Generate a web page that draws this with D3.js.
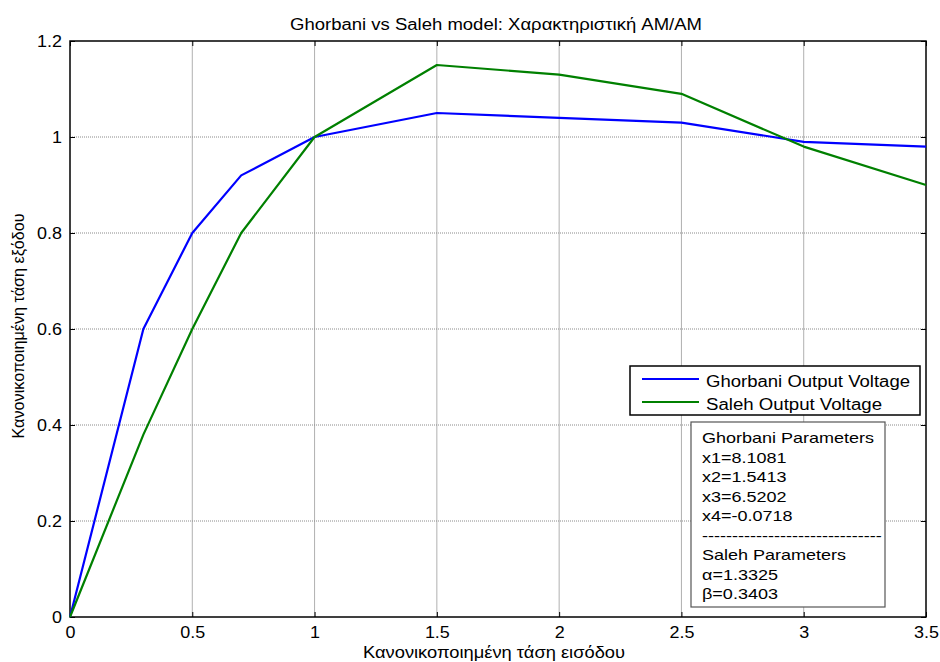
<!DOCTYPE html>
<html>
<head>
<meta charset="utf-8">
<script src="https://cdn.jsdelivr.net/npm/d3@7/dist/d3.min.js"></script>
<style>
  html, body { margin: 0; padding: 0; background: #fff; }
  svg text { font-family: "Liberation Sans", Arial, Helvetica, sans-serif; fill: #000; }
</style>
</head>
<body>
<svg id="chart" width="940" height="662"></svg>
<script>
// Input amplitude samples (normalised)
const inputVoltage = [0, 0.3, 0.5, 0.7, 1.0, 1.5, 2.0, 2.5, 3.0, 3.5];
// AM/AM output of the two fitted models
const ghorbaniOutput = [0, 0.60, 0.80, 0.92, 1.00, 1.05, 1.04, 1.03, 0.99, 0.98];
const salehOutput    = [0, 0.38, 0.60, 0.80, 1.00, 1.15, 1.13, 1.09, 0.98, 0.90];

const xTicks = [0, 0.5, 1, 1.5, 2, 2.5, 3, 3.5];
const yTicks = [0, 0.2, 0.4, 0.6, 0.8, 1.0, 1.2];

const seriesNames = ["Ghorbani Output Voltage", "Saleh Output Voltage"];
const seriesColors = ["#0000ff", "#008000"];

const paramLines = [
  "Ghorbani Parameters",
  "x1=8.1081",
  "x2=1.5413",
  "x3=6.5202",
  "x4=-0.0718",
  "------------------------------",
  "Saleh Parameters",
  "α=1.3325",
  "β=0.3403"
];

const titleText = "Ghorbani vs Saleh model: Χαρακτηριστική AM/AM";
const xLabelText = "Κανονικοποιημένη τάση εισόδου";
const yLabelText = "Κανονικοποιημένη τάση εξόδου";

const svg = d3.select("#chart");
const plot = { left: 70, right: 926, top: 41, bottom: 617 };

const x = d3.scaleLinear().domain([0, 3.5]).range([plot.left, plot.right]);
const y = d3.scaleLinear().domain([0, 1.2]).range([plot.bottom, plot.top]);

// Widen a text run horizontally by a factor (the figure font is a wide Helvetica)
function widen(sel, k) {
  sel.each(function () {
    const w = this.getComputedTextLength();
    d3.select(this).attr("textLength", w * k).attr("lengthAdjust", "spacingAndGlyphs");
  });
}

// grid
const grid = svg.append("g");
grid.selectAll("line.vg").data(xTicks.slice(1, -1)).join("line")
  .attr("x1", d => x(d)).attr("x2", d => x(d))
  .attr("y1", plot.top).attr("y2", plot.bottom)
  .attr("stroke", "#b0b0b0").attr("stroke-width", 1);
grid.selectAll("line.hg").data(yTicks.slice(1, -1)).join("line")
  .attr("x1", plot.left).attr("x2", plot.right)
  .attr("y1", d => y(d)).attr("y2", d => y(d))
  .attr("stroke", "#8a8a8a").attr("stroke-width", 1)
  .attr("stroke-dasharray", "1,1");

// axes (ticks point inward, mirrored on top/right)
const tickLen = 5;
const xAxis = d3.axisBottom(x).tickValues(xTicks).tickSize(-tickLen).tickPadding(10)
  .tickFormat(d3.format("~g"));
const yAxis = d3.axisLeft(y).tickValues(yTicks).tickSize(-tickLen).tickPadding(8)
  .tickFormat(d3.format("~g"));

const gx = svg.append("g").attr("transform", `translate(0,${plot.bottom})`).call(xAxis);
const gy = svg.append("g").attr("transform", `translate(${plot.left},0)`).call(yAxis);
const gxTop = svg.append("g").attr("transform", `translate(0,${plot.top})`)
  .call(d3.axisTop(x).tickValues(xTicks).tickSize(-tickLen).tickFormat(""));
const gyRight = svg.append("g").attr("transform", `translate(${plot.right},0)`)
  .call(d3.axisRight(y).tickValues(yTicks).tickSize(-tickLen).tickFormat(""));

[gx, gy, gxTop, gyRight].forEach(g => {
  g.select(".domain").remove();
  g.selectAll(".tick line").attr("stroke", "#000").attr("stroke-width", 1);
  g.selectAll(".tick text").attr("font-size", 16).attr("fill", "#000")
    .attr("font-family", "Liberation Sans, Arial, sans-serif");
});
widen(gx.selectAll(".tick text"), 1.12);
widen(gy.selectAll(".tick text"), 1.12);

// frame
svg.append("rect")
  .attr("x", plot.left).attr("y", plot.top)
  .attr("width", plot.right - plot.left).attr("height", plot.bottom - plot.top)
  .attr("fill", "none").attr("stroke", "#000").attr("stroke-width", 1.5);

// lines
const line = d3.line().x((d, i) => x(inputVoltage[i])).y(d => y(d));
[ghorbaniOutput, salehOutput].forEach((s, k) => {
  svg.append("path").datum(s)
    .attr("d", line)
    .attr("fill", "none")
    .attr("stroke", seriesColors[k])
    .attr("stroke-width", 2.2)
    .attr("stroke-linejoin", "round");
});

// title and axis labels
svg.append("text").attr("x", 496).attr("y", 30)
  .attr("text-anchor", "middle").attr("font-size", 16)
  .attr("textLength", 412).attr("lengthAdjust", "spacingAndGlyphs").text(titleText);
svg.append("text").attr("x", 494).attr("y", 658)
  .attr("text-anchor", "middle").attr("font-size", 16)
  .attr("textLength", 262).attr("lengthAdjust", "spacingAndGlyphs").text(xLabelText);
svg.append("text")
  .attr("transform", `translate(24,326) rotate(-90)`)
  .attr("text-anchor", "middle").attr("font-size", 16)
  .attr("textLength", 225).attr("lengthAdjust", "spacingAndGlyphs").text(yLabelText);

// legend
const lg = svg.append("g");
lg.append("rect").attr("x", 630).attr("y", 366).attr("width", 290).attr("height", 49)
  .attr("fill", "#fff").attr("stroke", "#000").attr("stroke-width", 1.5);
const legendWidths = [204, 176];
seriesNames.forEach((n, i) => {
  const yy = 379 + i * 23;
  lg.append("line").attr("x1", 642).attr("x2", 699).attr("y1", yy).attr("y2", yy)
    .attr("stroke", seriesColors[i]).attr("stroke-width", 2.2);
  lg.append("text").attr("x", 706).attr("y", yy + 8).attr("font-size", 16)
    .attr("textLength", legendWidths[i]).attr("lengthAdjust", "spacingAndGlyphs").text(n);
});

// parameter annotation box
const pb = svg.append("g");
pb.append("rect").attr("x", 691).attr("y", 422).attr("width", 194).attr("height", 185)
  .attr("fill", "#fff").attr("stroke", "#555").attr("stroke-width", 1.2);
const pt = pb.selectAll("text.p").data(paramLines).join("text")
  .attr("x", 702).attr("y", (d, i) => 443 + i * 19.5)
  .attr("font-size", 15).text(d => d);
widen(pt, 1.2);
</script>
</body>
</html>
